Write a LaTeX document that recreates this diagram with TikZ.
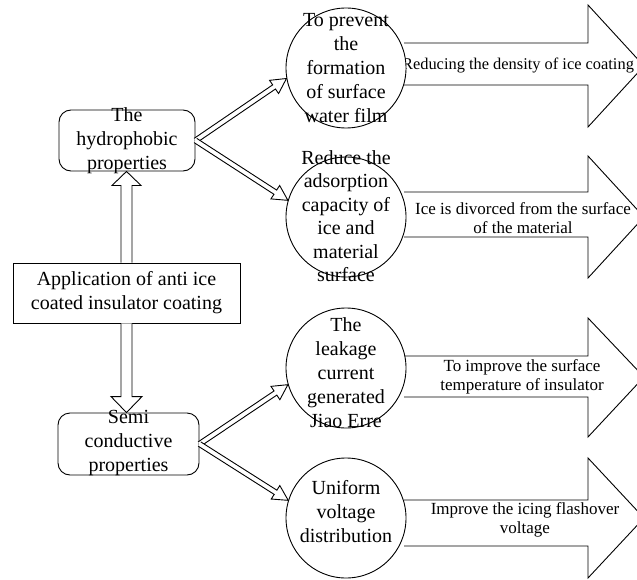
\documentclass[tikz,border=0pt]{standalone}
\usepackage{fontspec}
\setmainfont{Liberation Serif}
\usetikzlibrary{calc}
\tikzset{
  txtbig/.style={font=\fontsize{20bp}{24bp}\selectfont, align=center, inner sep=0pt},
  lbl/.style={font=\fontsize{17bp}{19bp}\selectfont, align=center, inner sep=0pt},
  circ/.style={circle, draw, fill=white, minimum size=120bp, inner sep=0pt, line width=0.9bp},
  rbox/.style={draw, rounded corners=12bp, inner sep=0pt, line width=0.9bp},
  sbox/.style={draw, inner sep=0pt, line width=0.9bp},
  outline/.style={draw, line width=0.9bp, line join=miter, fill=white},
}
% #1 start, #2 end, #3 shaft half width, #4 head half width, #5 head length
\newcommand{\hollowarrow}[5]{%
  \coordinate (hab) at ($(#2)!#5!(#1)$);
  \draw[outline] ($(#1)!#3!90:(#2)$) -- ($(hab)!#3!90:(#2)$) -- ($(hab)!#4!90:(#2)$)
    -- (#2) -- ($(hab)!#4!-90:(#2)$) -- ($(hab)!#3!-90:(#2)$) -- ($(#1)!#3!-90:(#2)$);
}
\begin{document}
\begin{tikzpicture}[x=1bp,y=-1bp]
\useasboundingbox (0,0) rectangle (637,580);

% big block arrows
\draw[outline] (404,43) -- (588,43) -- (588,5) -- (644,66) -- (588,127) -- (588,85) -- (404,85);
\draw[outline] (404,192) -- (588,192) -- (588,156) -- (644,217) -- (588,278) -- (588,237) -- (404,237);
\draw[outline] (404,356) -- (588,356) -- (588,318) -- (644,377) -- (588,437) -- (588,397) -- (404,397);
\draw[outline] (404,500) -- (588,500) -- (588,458) -- (644,518) -- (588,578) -- (588,546) -- (404,546);

\node[lbl, font=\fontsize{16.4bp}{19bp}\selectfont] (l1) at (518,65) {Reducing the density of ice coating};
\node[lbl] (l2) at (523,218) {Ice is divorced from the surface\\of the material};
\node[lbl] (l3) at (522,377) {To improve the surface\\temperature of insulator};
\node[lbl] (l4) at (525,520) {Improve the icing flashover\\voltage};

% circles
\node[circ] (c1) at (346,68) {};
\node[circ] (c2) at (346,217) {};
\node[circ] (c3) at (346,368) {};
\node[circ] (c4) at (346,518) {};

\node[txtbig] (t1) at (346,68) {To prevent\\the\\formation\\of surface\\water film};
\node[txtbig, font=\fontsize{20bp}{23.5bp}\selectfont] (t2) at (346,216) {Reduce the\\adsorption\\capacity of\\ice and\\material\\surface};
\node[txtbig] (t3) at (346,373) {The\\leakage\\current\\generated\\Jiao Erre};
\node[txtbig] (t4) at (346,512) {Uniform\\voltage\\distribution};

% boxes
\node[sbox, minimum width=227bp, minimum height=60bp] (main) at (126.5,293) {};
\node[txtbig] (maint) at (126.5,293) {Application of anti ice\\coated insulator coating};

\node[rbox, minimum width=136bp, minimum height=61bp] (hyd) at (127,140.5) {};
\node[txtbig] (hydt) at (127,140.5) {The\\hydrophobic\\properties};

\node[rbox, minimum width=141bp, minimum height=62bp] (semi) at (128.5,444) {};
\node[txtbig] (semit) at (128.5,443) {Semi\\conductive\\properties};

% vertical hollow arrows
\coordinate (hydbot) at (main.north |- hyd.south);
\coordinate (semitop) at (main.south |- semi.north);
\hollowarrow{main.north}{hydbot}{5.5bp}{14.5bp}{14bp}
\hollowarrow{main.south}{semitop}{5.5bp}{15.5bp}{16bp}

% thin hollow arrows
\hollowarrow{hyd.east}{c1.190}{2.5bp}{8bp}{15bp}
\hollowarrow{hyd.east}{c2.164}{2.5bp}{8bp}{15bp}
\hollowarrow{semi.east}{c3.196}{2.5bp}{8bp}{15bp}
\hollowarrow{semi.east}{c4.163}{2.5bp}{8bp}{15bp}
\end{tikzpicture}
\end{document}
